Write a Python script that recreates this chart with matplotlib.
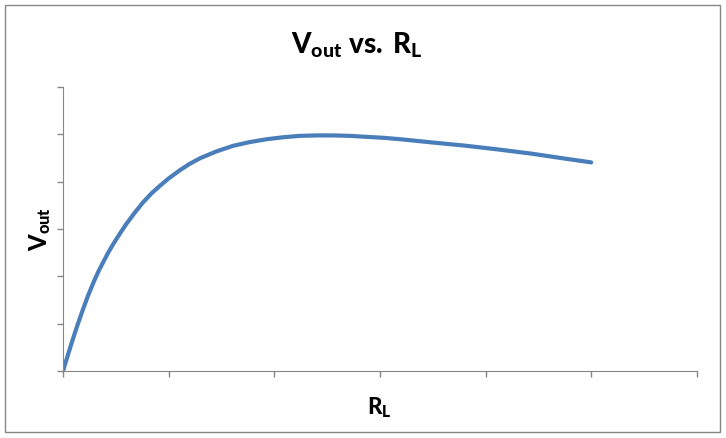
import matplotlib.pyplot as plt
from matplotlib.patches import Rectangle

# values (arbitrary units)
rl = [0, 0.02, 0.04, 0.07, 0.1, 0.14, 0.19, 0.24, 0.29, 0.33, 0.38, 0.43, 0.48,
      0.54, 0.6, 0.68, 0.76, 0.84, 0.92, 1.0, 1.11, 1.2, 1.3,
      1.45, 1.61, 1.77, 1.93, 2.08, 2.24, 2.4, 2.56, 2.72, 2.87, 3.03, 3.19,
      3.5, 3.82, 4.13, 4.45, 4.72, 5.0]
vout = [0, 0.15, 0.29, 0.51, 0.72, 0.99, 1.31, 1.61, 1.88, 2.08, 2.30, 2.51, 2.70,
        2.91, 3.11, 3.35, 3.57, 3.76, 3.92, 4.07, 4.25, 4.38, 4.50,
        4.64, 4.76, 4.84, 4.90, 4.94, 4.97, 4.98, 4.98, 4.97, 4.95, 4.93, 4.90,
        4.83, 4.76, 4.68, 4.59, 4.50, 4.41]

plt.rcParams['mathtext.fontset'] = 'custom'
plt.rcParams['mathtext.bf'] = 'Lato:weight=black'
plt.rcParams['mathtext.rm'] = 'Lato'

fig = plt.figure(figsize=(7.26, 4.38), dpi=100)
ax = fig.add_axes([0.0868, 0.153, 0.873, 0.648])

ax.plot(rl, vout, color='#4A7EBB', linewidth=3.0, solid_capstyle='round',
        solid_joinstyle='round')

ax.set_xlim(0, 6)
ax.set_ylim(0, 6)
ax.set_xticks(range(7))
ax.set_yticks(range(7))
ax.set_xticklabels([])
ax.set_yticklabels([])
ax.tick_params(direction='out', length=4, color='#868686', width=1)
for s in ['top', 'right']:
    ax.spines[s].set_visible(False)
for s in ['left', 'bottom']:
    ax.spines[s].set_color('#868686')

fig.text(0.492, 0.897, r'$\mathbf{V_{out}\;vs.\,R_L}$', ha='center', va='center', fontsize=20)
fig.text(0.523, 0.07, r'$\mathbf{R_L}$', ha='center', va='center', fontsize=16)
fig.text(0.055, 0.478, r'$\mathbf{V_{out}}$', ha='center', va='center', fontsize=17, rotation=90)

fig.patches.append(Rectangle((0.007, 0.013), 0.985, 0.975, transform=fig.transFigure,
                             fill=False, edgecolor='#868686', linewidth=1))

fig.savefig('out.png', dpi=100)
